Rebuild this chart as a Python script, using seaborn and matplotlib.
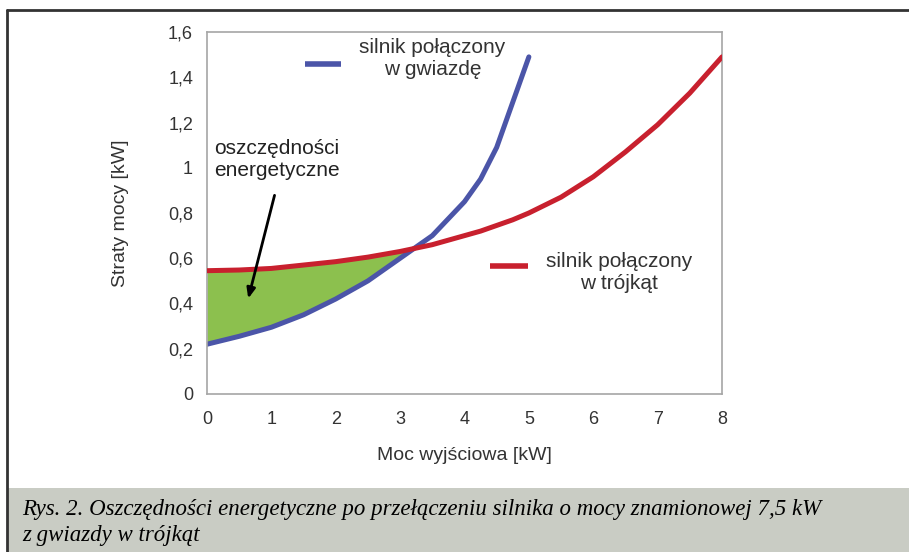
import numpy as np
import pandas as pd
import matplotlib
matplotlib.use("Agg")
import matplotlib.pyplot as plt
import seaborn as sns

# dane
moc_gwiazda = [0, 0.5, 1, 1.5, 2, 2.5, 3, 3.5, 4, 4.25, 4.5, 4.75, 5]
straty_gwiazda = [0.22, 0.255, 0.295, 0.35, 0.42, 0.50, 0.60, 0.70, 0.85, 0.95, 1.09, 1.29, 1.49]
moc_trojkat = [0, 0.5, 1, 1.5, 2, 2.5, 3, 3.5, 4, 4.25, 4.5, 4.75, 5, 5.5, 6, 6.5, 7, 7.5, 8]
straty_trojkat = [0.545, 0.548, 0.555, 0.57, 0.585, 0.605, 0.63, 0.66, 0.70, 0.72, 0.745, 0.77,
                  0.80, 0.87, 0.96, 1.07, 1.19, 1.33, 1.49]
x_ticks = [0, 1, 2, 3, 4, 5, 6, 7, 8]
y_ticks = [0, 0.2, 0.4, 0.6, 0.8, 1.0, 1.2, 1.4, 1.6]
y_tick_labels = ["0", "0,2", "0,4", "0,6", "0,8", "1", "1,2", "1,4", "1,6"]

sns.set_style("white")
plt.rcParams['font.family'] = ['Liberation Sans', 'DejaVu Sans']

niebieski = "#4b55a8"
czerwony = "#c8202e"
zielony = "#8cc04e"
szary = "#a6a6a6"

df_g = pd.DataFrame({"moc": moc_gwiazda, "straty": straty_gwiazda})
df_t = pd.DataFrame({"moc": moc_trojkat, "straty": straty_trojkat})

fig = plt.figure(figsize=(9.09, 5.52), dpi=100)
ax = fig.add_axes([207 / 909, 1 - 394 / 552, 515 / 909, 362 / 552])

# obszar oszczędności (między krzywymi do punktu przecięcia)
n = len(moc_gwiazda)
g = np.array(straty_gwiazda)
t = np.array(straty_trojkat[:n])
ax.fill_between(moc_gwiazda, g, t, where=t >= g, interpolate=True,
                color=zielony, linewidth=0, zorder=1)

sns.lineplot(data=df_t, x="moc", y="straty", ax=ax, color=czerwony, linewidth=3.6, zorder=3)
sns.lineplot(data=df_g, x="moc", y="straty", ax=ax, color=niebieski, linewidth=3.6, zorder=2)

ax.set_xlim(0, 8)
ax.set_ylim(0, 1.6)
ax.set_xticks(x_ticks)
ax.set_yticks(y_ticks)
ax.set_yticklabels(y_tick_labels)
ax.tick_params(axis="both", direction="out", length=4, width=1, color=szary,
               labelsize=13, labelcolor="#333333", pad=6)
ax.tick_params(axis="x", pad=8)
for s in ax.spines.values():
    s.set_color(szary)
    s.set_linewidth(1.2)
ax.set_xlabel("Moc wyjściowa [kW]", fontsize=14, color="#333333", labelpad=14)
ax.set_ylabel("Straty mocy [kW]", fontsize=14, color="#333333", labelpad=28)

# opisy krzywych
ax.plot([1.52, 2.08], [1.46, 1.46], color=niebieski, linewidth=4, solid_capstyle="butt")
ax.text(3.5, 1.485, "silnik połączony\nw gwiazdę", ha="center", va="center",
        fontsize=15, color="#333333", linespacing=1.2)
ax.plot([4.4, 4.98], [0.565, 0.565], color=czerwony, linewidth=4, solid_capstyle="butt")
ax.text(6.4, 0.535, "silnik połączony\nw trójkąt", ha="center", va="center",
        fontsize=15, color="#333333", linespacing=1.2)

ax.text(1.08, 1.035, "oszczędności\nenergetyczne", ha="center", va="center",
        fontsize=15, color="#222222", linespacing=1.2)
ax.annotate("", xy=(0.63, 0.41), xytext=(1.06, 0.89),
            arrowprops=dict(arrowstyle="-|>,head_length=0.6,head_width=0.25",
                            color="black", lw=2.0))

# podpis rysunku
fig.patches.append(plt.Rectangle((8 / 909, 0), 1, 64 / 552, transform=fig.transFigure,
                                 facecolor="#c9ccc4", edgecolor="none", zorder=0))
fig.add_artist(plt.Line2D([7 / 909, 1], [1 - 9.5 / 552, 1 - 9.5 / 552],
                          transform=fig.transFigure, color="#333333", linewidth=2))
fig.add_artist(plt.Line2D([7.5 / 909, 7.5 / 909], [0, 1 - 9.5 / 552],
                          transform=fig.transFigure, color="#333333", linewidth=2))
fig.text(22 / 909, 1 - 509 / 552,
         "Rys. 2. Oszczędności energetyczne po przełączeniu silnika o mocy znamionowej 7,5 kW",
         fontsize=16.5, family=["Liberation Serif", "DejaVu Serif"], style="italic",
         va="center", ha="left", color="black")
fig.text(22 / 909, 1 - 536 / 552, "z gwiazdy w trójkąt",
         fontsize=16.5, family=["Liberation Serif", "DejaVu Serif"], style="italic",
         va="center", ha="left", color="black")

fig.savefig("out.png", dpi=100)
